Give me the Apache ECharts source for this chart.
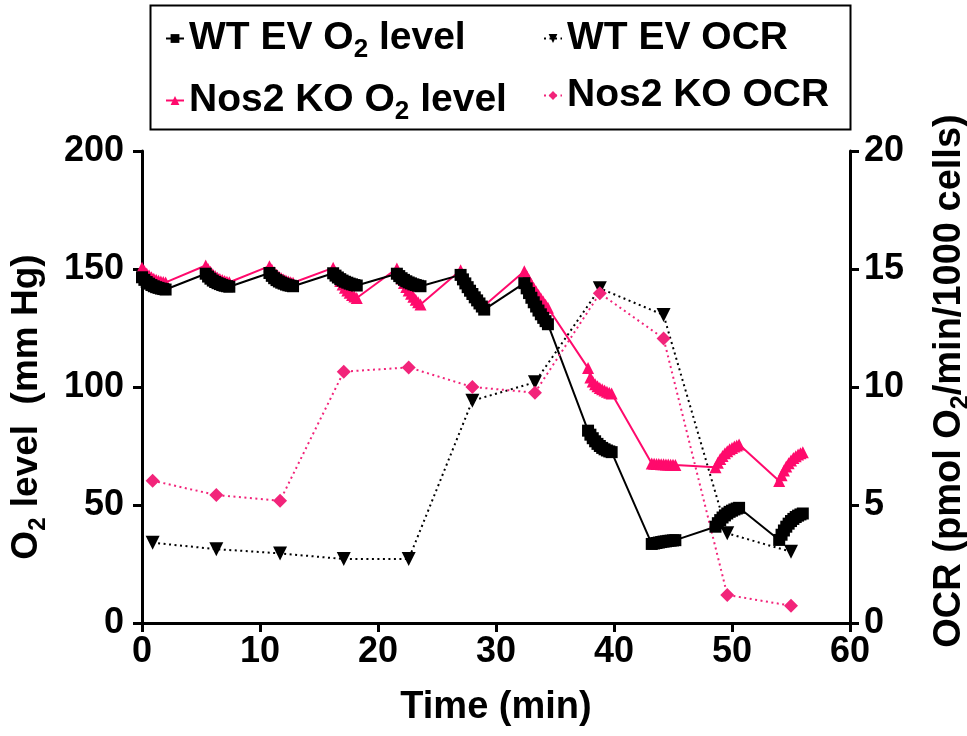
<!DOCTYPE html>
<html>
<head>
<meta charset="utf-8" />
<title>O2 level / OCR</title>
<script src="https://cdn.jsdelivr.net/npm/echarts/dist/echarts.min.js"></script>
<style>
  html, body { margin: 0; padding: 0; background: #fff; }
  #main { width: 967px; height: 736px; }
</style>
</head>
<body>
<div id="main"></div>
<script type="text/javascript">
  // O2 readings, 11 per measuring cycle
  var o2Time = [
    0, 0.2, 0.4, 0.6, 0.8, 1, 1.2, 1.4, 1.6, 1.8, 2,
    5.4, 5.6, 5.8, 6, 6.2, 6.4, 6.6, 6.8, 7, 7.2, 7.4,
    10.8, 11, 11.2, 11.4, 11.6, 11.8, 12, 12.2, 12.4, 12.6, 12.8,
    16.2, 16.4, 16.6, 16.8, 17, 17.2, 17.4, 17.6, 17.8, 18, 18.2,
    21.6, 21.8, 22, 22.2, 22.4, 22.6, 22.8, 23, 23.2, 23.4, 23.6,
    27, 27.2, 27.4, 27.6, 27.8, 28, 28.2, 28.4, 28.6, 28.8, 29,
    32.4, 32.6, 32.8, 33, 33.2, 33.4, 33.6, 33.8, 34, 34.2, 34.4,
    37.8, 38, 38.2, 38.4, 38.6, 38.8, 39, 39.2, 39.4, 39.6, 39.8,
    43.2, 43.4, 43.6, 43.8, 44, 44.2, 44.4, 44.6, 44.8, 45, 45.2,
    48.6, 48.8, 49, 49.2, 49.4, 49.6, 49.8, 50, 50.2, 50.4, 50.6,
    54, 54.2, 54.4, 54.6, 54.8, 55, 55.2, 55.4, 55.6, 55.8, 56
  ];
  var wtO2 = [
    146.5, 145.4, 144.5, 143.8, 143.2, 142.7, 142.3, 142, 141.7, 141.5, 141.3,
    148, 146.8, 145.9, 145.1, 144.5, 144, 143.6, 143.2, 142.9, 142.7, 142.5,
    148.3, 147.1, 146.1, 145.3, 144.7, 144.2, 143.8, 143.4, 143.1, 142.9, 142.7,
    148.2, 147.2, 146.4, 145.7, 145.1, 144.6, 144.2, 143.8, 143.5, 143.2, 143,
    148, 147, 146.1, 145.4, 144.8, 144.3, 143.9, 143.5, 143.2, 142.9, 142.7,
    147.5, 145.6, 143.9, 142.3, 140.8, 139.4, 138, 136.7, 135.4, 134.1, 132.8,
    144, 141.8, 139.8, 137.8, 135.9, 134.1, 132.4, 130.8, 129.3, 127.9, 126.6,
    81.5, 79.8, 78.3, 77, 75.9, 75, 74.2, 73.6, 73.1, 72.7, 72.4,
    33.5, 33.7, 33.9, 34.1, 34.3, 34.5, 34.6, 34.8, 34.9, 35, 35.1,
    40.8, 42.3, 43.6, 44.7, 45.6, 46.4, 47.1, 47.6, 48.1, 48.5, 48.8,
    35.2, 37.4, 39.2, 40.8, 42.1, 43.2, 44.1, 44.9, 45.5, 46, 46.4
  ];
  var koO2 = [
    150.5, 149.2, 148.1, 147.2, 146.5, 145.9, 145.4, 145, 144.7, 144.5, 144.3,
    151.5, 150, 148.8, 147.8, 147, 146.3, 145.8, 145.3, 144.9, 144.6, 144.4,
    151.2, 149.8, 148.6, 147.6, 146.8, 146.1, 145.5, 145.1, 144.7, 144.4, 144.2,
    150.5, 148.5, 146.6, 144.9, 143.4, 142.1, 140.9, 139.9, 139, 138.3, 137.7,
    150.2, 148, 146, 144.1, 142.4, 140.9, 139.5, 138.2, 137, 135.9, 135,
    149.5, 147.6, 145.8, 144.1, 142.5, 141, 139.6, 138.2, 136.9, 135.6, 134.4,
    149, 147.1, 145.3, 143.6, 142, 140.5, 139, 137.6, 136.2, 134.9, 133.6,
    108, 104, 102.3, 101.2, 100.3, 99.6, 99, 98.5, 98, 97.6, 97.2,
    67.6, 67.5, 67.4, 67.4, 67.3, 67.3, 67.2, 67.2, 67.1, 67.1, 67,
    66, 67.9, 69.5, 70.8, 71.9, 72.8, 73.6, 74.2, 74.8, 75.2, 75.6,
    60.2, 62.6, 64.6, 66.3, 67.7, 68.9, 69.9, 70.7, 71.4, 71.9, 72.3
  ];

  // OCR, one value per cycle
  var ocrTime = [0.9, 6.3, 11.7, 17.1, 22.6, 28.0, 33.3, 38.8, 44.2, 49.6, 55.0];
  var wtOcr = [3.4, 3.13, 2.95, 2.71, 2.71, 9.42, 10.2, 14.18, 13.05, 3.8, 3.02];
  var koOcr = [6.03, 5.42, 5.18, 10.65, 10.83, 10.0, 9.76, 13.97, 12.06, 1.19, 0.73];

  var xTicks = [0, 10, 20, 30, 40, 50, 60];
  var leftTicks = [0, 50, 100, 150, 200];
  var rightTicks = [0, 5, 10, 15, 20];

  var FONT = '"Liberation Sans", Arial, sans-serif';
  var PINK = '#ff0a6c';
  var PINK2 = '#f2247a';

  function pairs(xs, ys) {
    var out = [];
    for (var i = 0; i < xs.length; i++) out.push([xs[i], ys[i]]);
    return out;
  }

  function richSub(size) {
    return {
      b: { fontFamily: FONT, fontWeight: 'bold', fontSize: size, color: '#000' },
      s: { fontFamily: FONT, fontWeight: 'bold', fontSize: Math.round(size * 0.66), color: '#000', padding: [Math.round(size * 0.6), 0, 0, 0] }
    };
  }

  var legendNames = {
    'WT EV O2 level': '{b|WT EV O}{s|2}{b| level}',
    'Nos2 KO O2 level': '{b|Nos2 KO O}{s|2}{b| level}',
    'WT EV OCR': '{b|WT EV OCR}',
    'Nos2 KO OCR': '{b|Nos2 KO OCR}'
  };

  var myChart = echarts.init(document.getElementById('main'));

  myChart.setOption({
    animation: false,
    backgroundColor: '#fff',
    grid: { left: 142, right: 117, top: 151, bottom: 113, outerBoundsMode: 'none', containLabel: false },
    graphic: [{
      type: 'rect',
      left: 148, top: 3,
      shape: { width: 700, height: 124 },
      style: { fill: 'none', stroke: '#000', lineWidth: 2 }
    }],
    legend: [{
      orient: 'vertical',
      left: 160, top: 14,
      itemGap: 18,
      itemWidth: 18, itemHeight: 11,
      data: ['WT EV O2 level', 'Nos2 KO O2 level'],
      formatter: function (n) { return legendNames[n]; },
      textStyle: { rich: richSub(39) }
    }, {
      orient: 'vertical',
      left: 538, top: 14,
      itemGap: 18,
      itemWidth: 18, itemHeight: 11,
      data: ['WT EV OCR', 'Nos2 KO OCR'],
      formatter: function (n) { return legendNames[n]; },
      textStyle: { rich: richSub(39) }
    }],
    xAxis: {
      type: 'value',
      min: xTicks[0], max: xTicks[xTicks.length - 1], interval: 10,
      name: 'Time (min)',
      nameLocation: 'middle',
      nameGap: 66,
      nameTextStyle: { fontFamily: FONT, fontWeight: 'bold', fontSize: 38, color: '#000' },
      axisLine: { lineStyle: { color: '#000', width: 3 } },
      axisTick: { length: 9, lineStyle: { color: '#000', width: 3 } },
      axisLabel: { margin: 11, fontFamily: FONT, fontWeight: 'bold', fontSize: 36, color: '#000' },
      splitLine: { show: false }
    },
    yAxis: [{
      type: 'value',
      min: leftTicks[0], max: leftTicks[leftTicks.length - 1], interval: 50,
      name: '{b|O}{s|2}{b| level  (mm Hg)}',
      nameLocation: 'middle',
      nameRotate: 90,
      nameGap: 92,
      nameTextStyle: { rich: richSub(37), padding: [0, 40, 0, 0] },
      axisLine: { show: true, lineStyle: { color: '#000', width: 3 } },
      axisTick: { show: true, length: 9, lineStyle: { color: '#000', width: 3 } },
      axisLabel: { margin: 18, fontFamily: FONT, fontWeight: 'bold', fontSize: 36, color: '#000' },
      splitLine: { show: false }
    }, {
      type: 'value',
      position: 'right',
      min: rightTicks[0], max: rightTicks[rightTicks.length - 1], interval: 5,
      name: '{b|OCR (pmol O}{s|2}{b|/min/1000 cells)}',
      nameLocation: 'middle',
      nameRotate: 90,
      nameGap: 76,
      nameTextStyle: { rich: richSub(38), padding: [0, 0, 0, 12] },
      axisLine: { show: true, lineStyle: { color: '#000', width: 3 } },
      axisTick: { show: true, length: 9, lineStyle: { color: '#000', width: 3 } },
      axisLabel: { margin: 14, fontFamily: FONT, fontWeight: 'bold', fontSize: 36, color: '#000' },
      splitLine: { show: false }
    }],
    series: [{
      name: 'Nos2 KO O2 level',
      type: 'line',
      data: pairs(o2Time, koO2),
      symbol: 'triangle',
      symbolSize: 12,
      itemStyle: { color: PINK },
      lineStyle: { color: PINK, width: 2 }
    }, {
      name: 'WT EV O2 level',
      type: 'line',
      data: pairs(o2Time, wtO2),
      symbol: 'rect',
      symbolSize: 12,
      itemStyle: { color: '#000' },
      lineStyle: { color: '#000', width: 2 }
    }, {
      name: 'WT EV OCR',
      type: 'line',
      yAxisIndex: 1,
      data: pairs(ocrTime, wtOcr),
      symbol: 'triangle',
      symbolRotate: 180,
      symbolSize: 14,
      itemStyle: { color: '#000' },
      lineStyle: { color: '#000', width: 2, type: [2, 3.5] }
    }, {
      name: 'Nos2 KO OCR',
      type: 'line',
      yAxisIndex: 1,
      data: pairs(ocrTime, koOcr),
      symbol: 'diamond',
      symbolSize: 14,
      itemStyle: { color: PINK2 },
      lineStyle: { color: PINK2, width: 2, type: [2, 3.5] }
    }]
  });
</script>
</body>
</html>
